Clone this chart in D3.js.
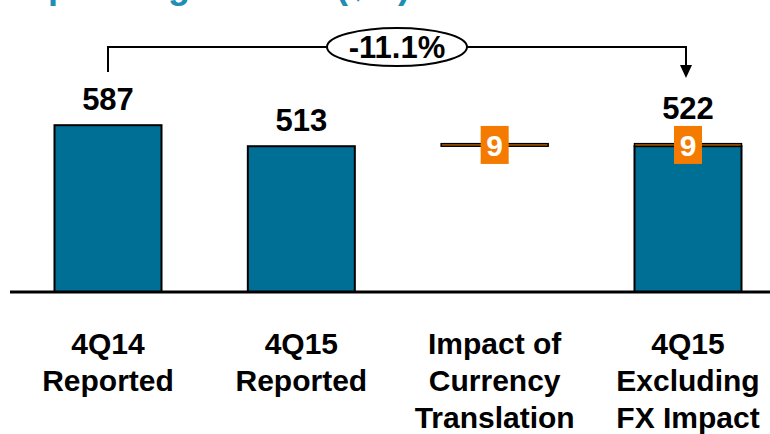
<!DOCTYPE html>
<html>
<head>
<meta charset="utf-8">
<script src="https://cdn.jsdelivr.net/npm/d3@7"></script>
<style>
  body { margin: 0; background: #fff; }
  svg { display: block; font-family: "Liberation Sans", Arial, sans-serif; font-weight: bold; }
</style>
</head>
<body>
<div id="chart"></div>
<script>
// data
var categories = ['4Q14 Reported', '4Q15 Reported', 'Impact of Currency Translation', '4Q15 Excluding FX Impact'];
var categoryLines = [['4Q14', 'Reported'], ['4Q15', 'Reported'], ['Impact of', 'Currency', 'Translation'], ['4Q15', 'Excluding', 'FX Impact']];
var reported = [587, 513, null, 513];
var fxImpact = [null, null, 9, 9];
var fxBase = 513;
var totals = [587, 513, null, 522];
var changeLabel = '-11.1%';
var titleText = 'Operating Income ($M)';

var width = 770, height = 434;
var TEAL = '#006f96', ORANGE = '#f47b00', TITLE = '#1f8db5';

var svg = d3.select('#chart').append('svg')
  .attr('width', width)
  .attr('height', height);

var x = d3.scalePoint().domain(categories).range([108, 688]);
var y = d3.scaleLinear().domain([0, 600]).range([292, 121.5]);
var barW = 107;

// title, cut by the top edge like in the slide
svg.append('text')
  .attr('x', 20)
  .attr('y', -2)
  .style('font-size', '36px')
  .style('fill', TITLE)
  .text(titleText);

// teal bars
svg.selectAll('rect.bar')
  .data(categories.filter(function(c, i){ return reported[i] != null; }))
  .enter().append('rect')
  .attr('class', 'bar')
  .attr('x', function(d){ return x(d) - barW / 2; })
  .attr('y', function(d){ return y(reported[categories.indexOf(d)]); })
  .attr('width', barW)
  .attr('height', function(d){ return y(0) - y(reported[categories.indexOf(d)]); })
  .style('fill', TEAL)
  .style('stroke', '#000')
  .style('stroke-width', 2);

// fx strips
var fxCats = categories.filter(function(c, i){ return fxImpact[i] != null; });
svg.selectAll('rect.fx')
  .data(fxCats)
  .enter().append('rect')
  .attr('class', 'fx')
  .attr('x', function(d){ return x(d) - barW / 2; })
  .attr('y', function(d){ return y(fxBase + fxImpact[categories.indexOf(d)]); })
  .attr('width', barW)
  .attr('height', function(d){ return y(fxBase) - y(fxBase + fxImpact[categories.indexOf(d)]); })
  .style('fill', ORANGE)
  .style('stroke', '#000')
  .style('stroke-width', 1.5);

// orange value boxes
fxCats.forEach(function(d){
  var v = fxImpact[categories.indexOf(d)];
  var cy = (y(fxBase) + y(fxBase + v)) / 2;
  svg.append('rect')
    .attr('x', x(d) - 14)
    .attr('y', cy - 19)
    .attr('width', 28)
    .attr('height', 38)
    .style('fill', ORANGE);
  svg.append('text')
    .attr('x', x(d))
    .attr('y', cy + 11)
    .attr('text-anchor', 'middle')
    .style('font-size', '30px')
    .style('fill', '#fff')
    .text(v);
});

// axis line
svg.append('line')
  .attr('x1', 10).attr('x2', width)
  .attr('y1', y(0)).attr('y2', y(0))
  .style('stroke', '#000')
  .style('stroke-width', 3);

// value labels
categories.forEach(function(d, i){
  if (totals[i] == null) return;
  var ly = y(totals[i]) - 15;
  if (fxImpact[i] != null) ly = (y(fxBase) + y(totals[i])) / 2 - 26;
  svg.append('text')
    .attr('x', x(d))
    .attr('y', ly)
    .attr('text-anchor', 'middle')
    .style('font-size', '31px')
    .style('fill', '#000')
    .text(totals[i]);
});

// category labels
categories.forEach(function(d, i){
  var t = svg.append('text')
    .attr('text-anchor', 'middle')
    .style('font-size', '30px')
    .style('fill', '#000');
  categoryLines[i].forEach(function(line, k){
    t.append('tspan')
      .attr('x', x(d))
      .attr('y', 354 + k * 37)
      .text(line);
  });
});

// change bracket
var bx0 = x(categories[0]), bx1 = x(categories[3]) - 2, by = 47;
svg.append('path')
  .attr('d', 'M' + bx0 + ',' + 72 + 'V' + by + 'H' + bx1 + 'V' + 66)
  .style('fill', 'none')
  .style('stroke', '#000')
  .style('stroke-width', 2);
svg.append('path')
  .attr('d', 'M' + (bx1 - 6) + ',65L' + (bx1 + 6) + ',65L' + bx1 + ',78Z')
  .style('fill', '#000');

var ex = (bx0 + bx1) / 2;
svg.append('ellipse')
  .attr('cx', ex).attr('cy', by)
  .attr('rx', 70).attr('ry', 19)
  .style('fill', '#fff')
  .style('stroke', '#000')
  .style('stroke-width', 2);
svg.append('text')
  .attr('x', ex)
  .attr('y', by + 11)
  .attr('text-anchor', 'middle')
  .style('font-size', '31px')
  .style('fill', '#000')
  .text(changeLabel);
</script>
</body>
</html>
